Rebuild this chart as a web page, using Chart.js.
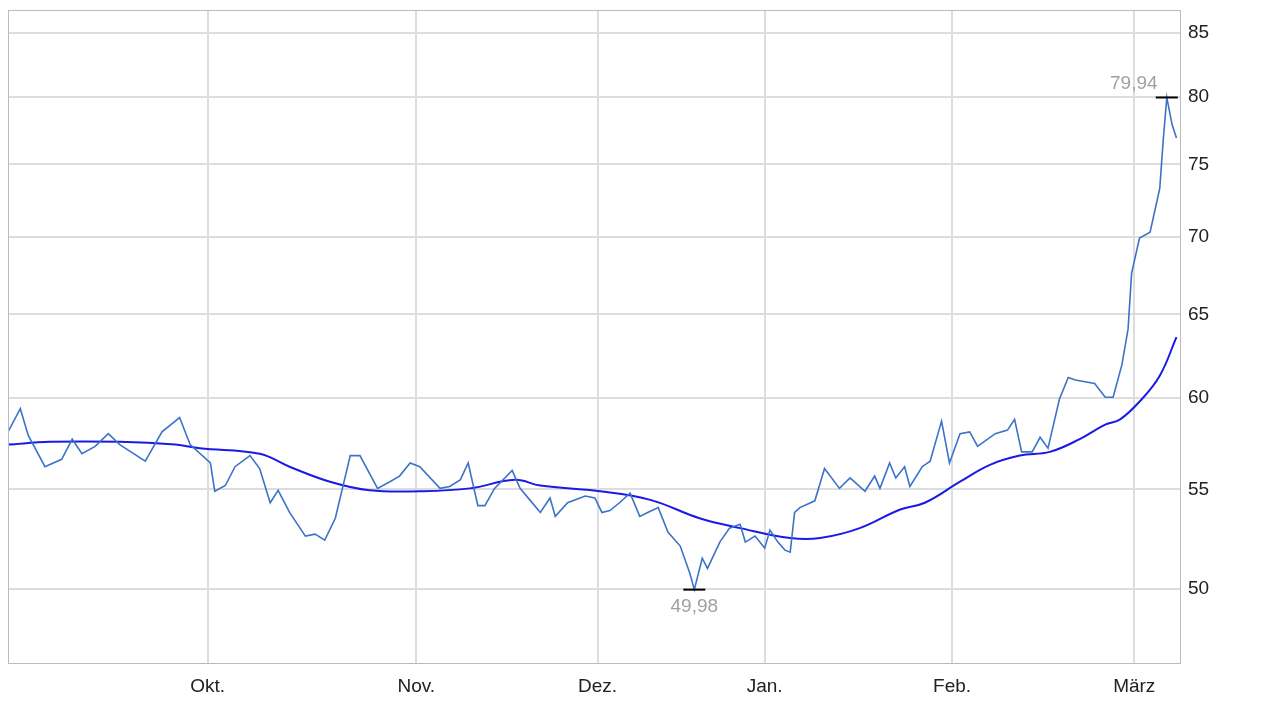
<!DOCTYPE html>
<html>
<head>
<meta charset="utf-8">
<script src="https://cdn.jsdelivr.net/npm/chart.js@4/dist/chart.umd.min.js"></script>
<style>
  html, body { margin: 0; padding: 0; background: #fff; }
  #wrap { width: 1280px; height: 720px; }
</style>
</head>
<body>
<div id="wrap"><canvas id="myChart"></canvas></div>
<script>
// x = Handelstag-Index, y = Kurs
const priceX = [0,1.4,2.3,4.2,6.1,7.3,8.4,9.9,11.4,12.7,15.6,17.5,19.5,20.7,23.0,23.5,24.7,25.8,27.5,28.6,29.8,30.7,32.0,33.8,34.9,36.0,37.2,38.9,40.0,42.0,43.4,44.5,45.7,46.8,49.1,50.2,51.4,52.3,53.4,54.2,55.3,57.3,58.2,59.3,60.5,61.6,62.2,63.6,65.6,66.7,67.5,68.4,69.5,70.7,71.8,72.7,73.9,75.0,76.4,77.5,78.0,78.9,79.5,80.9,82.0,83.2,83.8,84.9,86.0,86.6,87.5,88.3,88.9,89.4,90.0,91.7,92.8,94.5,95.7,97.4,98.5,99.1,100.2,100.9,101.9,102.5,103.9,104.8,106.1,107.0,108.2,109.3,110.2,112.2,113.6,114.4,115.2,116.4,117.3,118.2,119.5,120.5,121.3,123.5,124.7,125.6,126.6,127.3,127.7,128.6,129.8,130.9,131.3,131.7,132.3,132.8];
const priceY = [58.1,59.4,57.9,56.2,56.6,57.7,56.9,57.3,58.0,57.4,56.5,58.1,58.9,57.4,56.4,54.9,55.2,56.2,56.8,56.1,54.3,54.95,53.8,52.6,52.7,52.4,53.5,56.8,56.8,55.05,55.4,55.7,56.4,56.2,55.05,55.15,55.5,56.4,54.15,54.15,55.05,56.0,55.05,54.45,53.8,54.55,53.6,54.3,54.65,54.55,53.8,53.9,54.3,54.8,53.6,53.8,54.05,52.8,52.1,50.75,49.98,51.5,51.0,52.3,53.0,53.2,52.3,52.6,52.0,52.9,52.3,51.9,51.8,53.8,54.05,54.4,56.1,55.05,55.6,54.9,55.7,55.05,56.4,55.6,56.2,55.15,56.2,56.5,58.7,56.4,58.0,58.1,57.3,58.0,58.2,58.8,57.0,57.0,57.8,57.2,59.95,61.2,61.05,60.85,60.05,60.05,61.95,64.1,67.6,69.9,70.3,73.3,76.8,79.94,77.9,76.9];
const avgX = [0,4.8,12.7,19.0,21.8,28.6,32.0,36.6,41.1,46.8,52.5,57.6,60.5,67.3,73.0,78.6,83.2,88.9,92.3,96.8,101.4,104.2,108.2,111.6,115.0,118.4,121.8,124.7,126.4,128.6,130.9,132.8];
const avgY = [57.4,57.55,57.55,57.4,57.2,56.9,56.2,55.4,54.95,54.9,55.05,55.5,55.2,54.9,54.45,53.5,53.0,52.5,52.5,53.0,53.95,54.3,55.4,56.3,56.8,57.0,57.7,58.5,58.8,59.8,61.3,63.6];
const monthPos = [22.7, 46.4, 67.0, 86.0, 107.3, 128.0];
const monthLabels = ['Okt.', 'Nov.', 'Dez.', 'Jan.', 'Feb.', 'März'];
const yTicks = [50, 55, 60, 65, 70, 75, 80, 85];
const highX = 131.7, highY = 79.94, lowX = 78.0, lowY = 49.98;

const pricePts = priceX.map((x, i) => ({ x: x, y: priceY[i] }));
const avgPts = avgX.map((x, i) => ({ x: x, y: avgY[i] }));

const markPlugin = {
    id: 'marks',
    afterDatasetsDraw(chart) {
        const c = chart.ctx;
        const xs = chart.scales.x, ys = chart.scales.y;
        c.save();
        c.strokeStyle = '#bbb';
        c.lineWidth = 1;
        const a = chart.chartArea;
        c.strokeRect(a.left + 0.5, a.top + 0.5, a.right - a.left, a.bottom - a.top);
        c.strokeStyle = '#000';
        c.lineWidth = 2;
        c.font = '19px "Liberation Sans", Arial, sans-serif';
        c.fillStyle = '#a0a0a0';
        c.textAlign = 'center';
        [[highX, highY, -1], [lowX, lowY, 1]].forEach(m => {
            const px = xs.getPixelForValue(m[0]);
            const py = ys.getPixelForValue(m[1]);
            c.beginPath();
            c.moveTo(px - 11, py);
            c.lineTo(px + 11, py);
            c.stroke();
            const label = m[1].toFixed(2).replace('.', ',');
            if (m[2] < 0) {
                c.textBaseline = 'bottom';
                c.fillText(label, px - 33, py - 4);
            } else {
                c.textBaseline = 'top';
                c.fillText(label, px, py + 8);
            }
        });
        c.restore();
    }
};

new Chart(document.getElementById('myChart'), {
    type: 'line',
    data: {
        datasets: [
            { data: pricePts, borderColor: '#3b73c8', borderWidth: 1.6, pointRadius: 0, tension: 0 },
            { data: avgPts, borderColor: '#1a1ae6', borderWidth: 2, pointRadius: 0, tension: 0.4 }
        ]
    },
    options: {
        responsive: true,
        maintainAspectRatio: false,
        animation: false,
        layout: { padding: { left: 8, top: 10, right: 0, bottom: 0 } },
        plugins: { legend: { display: false }, tooltip: { enabled: false } },
        scales: {
            x: {
                type: 'linear',
                min: 0,
                max: 133.2,
                afterBuildTicks: s => { s.ticks = monthPos.map(v => ({ value: v })); },
                afterFit: s => { s.height = 57; s.paddingLeft = 0; s.paddingRight = 0; },
                ticks: {
                    autoSkip: false,
                    maxRotation: 0,
                    padding: 12,
                    color: '#222',
                    font: { family: '"Liberation Sans", Arial, sans-serif', size: 19 },
                    callback: (v, i) => monthLabels[i]
                },
                grid: { color: '#dddddd', lineWidth: 2, drawTicks: false },
                border: { color: '#bbb' }
            },
            y: {
                type: 'logarithmic',
                position: 'right',
                min: 46.6,
                max: 86.9,
                afterBuildTicks: s => { s.ticks = yTicks.map(v => ({ value: v })); },
                afterFit: s => { s.width = 100; s.paddingTop = 0; s.paddingBottom = 0; },
                ticks: {
                    padding: 8,
                    color: '#222',
                    font: { family: '"Liberation Sans", Arial, sans-serif', size: 19 },
                    callback: v => String(v)
                },
                grid: { color: '#dddddd', lineWidth: 2, drawTicks: false },
                border: { color: '#bbb' }
            }
        }
    },
    plugins: [markPlugin]
});
</script>
</body>
</html>
